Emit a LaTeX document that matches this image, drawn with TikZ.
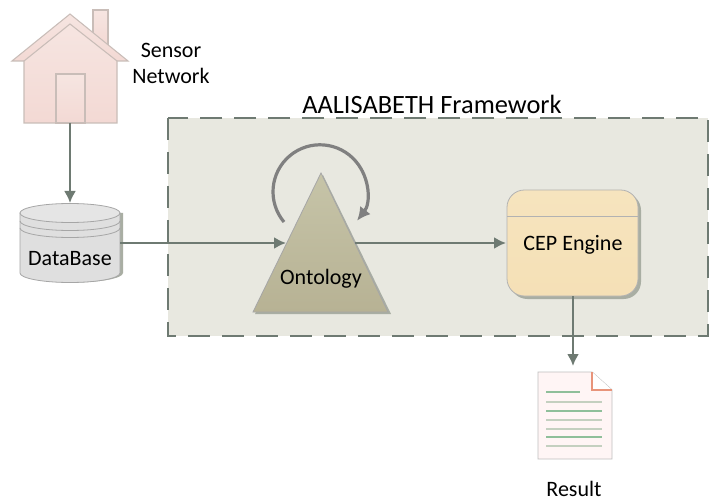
\documentclass[tikz,border=0pt]{standalone}
\usepackage{fontspec}
\setmainfont{Carlito}
\usetikzlibrary{arrows.meta}
\definecolor{linegray}{HTML}{6E7A72}
\definecolor{panelfill}{HTML}{E8E8E0}
\definecolor{pinkedge}{HTML}{C9BDB8}
\definecolor{pinktop}{HTML}{F6E5E1}
\definecolor{pinkbottom}{HTML}{F3D9D4}
\definecolor{shadowgray}{HTML}{A9AEA3}
\definecolor{rulegreen}{HTML}{8FBF9A}
\definecolor{rulegray}{HTML}{C4D0C0}
\definecolor{foldorange}{HTML}{E8947A}
\begin{document}
\begin{tikzpicture}[x=.75pt, y=.75pt,
  arr/.style = {line width=1.6pt, draw=linegray, -{Latex[length=9pt, width=9pt]}},
  panel/.style = {fill=panelfill, draw=linegray, line width=2.2pt, dash pattern=on 16.5pt off 9pt},
  pinkpart/.style = {draw=pinkedge, line width=.8pt, top color=pinktop, bottom color=pinkbottom},
  dbpart/.style = {draw=gray!70, line width=.6pt, fill=gray!25},
  shadowpart/.style = {fill=shadowgray, draw=none},
  label/.style = {font=\fontsize{16.5}{19.5}\selectfont, align=center, inner sep=0pt},
  ruled/.style = {line width=.8pt, draw=#1}
  ]
  \useasboundingbox (0,0) rectangle (716,500);

  % framework panel
  \fill [white] (0,0) rectangle (716,500);
  \draw [panel] (168,382) rectangle (708,164);
  \node (title) [label, font=\fontsize{19.8}{22}\selectfont] at (432,396) {AALISABETH Framework};

  % house
  \draw [pinkpart] (93,455) -- (93,490) -- (108,490) -- (108,455) -- cycle;
  \draw [pinkpart] (12,439) -- (70,486) -- (128,439) -- cycle;
  \draw [pinkpart] (24,439) -- (70,476) -- (117,439) -- (117,377) -- (24,377) -- cycle;
  \draw [pinkpart] (56,377) rectangle (85,426);
  \coordinate (housebase) at (70,377);
  \node (sensor) [label] at (171,437) {Sensor\\Network};

  % database
  \fill [shadowpart] (23,287) -- (23,227) arc [start angle=180, end angle=360, x radius=50, y radius=9.5] -- (123,287) -- cycle;
  \draw [dbpart] (20,287) -- (20,227) arc [start angle=180, end angle=360, x radius=50, y radius=9.5] -- (120,287) -- cycle;
  \draw [dbpart, fill=gray!20] (70,287) ellipse [x radius=50, y radius=9.5];
  \draw [dbpart, fill=none] (20,279) arc [start angle=180, end angle=360, x radius=50, y radius=9.5];
  \draw [dbpart, fill=none] (20,272) arc [start angle=180, end angle=360, x radius=50, y radius=9.5];
  \node (dbase) [label, minimum width=75pt, minimum height=45pt] at (70,241) {DataBase};
  \coordinate (dbasetop) at (70,297);
  \coordinate (dbaseright) at (120,257);

  % ontology
  \fill [shadowpart] (255,186) -- (391,186) -- (323,325) -- cycle;
  \draw [draw=gray!70, line width=.6pt, top color={rgb,255:red,198;green,196;blue,168}, bottom color={rgb,255:red,183;green,178;blue,148}]
    (253,188) -- (388,188) -- (321,327) -- cycle;
  \node (onto) [label] at (321,221) {Ontology};
  \coordinate (ontoin) at (286,257);
  \coordinate (ontoout) at (355,257);
  \coordinate (ontoloop) at (284,278);
  \draw [line width=2.4pt, draw=gray, -{Latex[length=10pt, width=10pt]}]
    (ontoloop) arc [start angle=220, end angle=-38, radius=47];

  % cep engine
  \fill [shadowpart, rounded corners=13pt] (510,201) rectangle (641,307);
  \draw [draw=gray!60, line width=.6pt, rounded corners=13pt, top color={rgb,255:red,246;green,228;blue,190}, bottom color={rgb,255:red,245;green,224;blue,182}]
    (507,204) rectangle (638,310);
  \draw [draw=gray!60, line width=.6pt] (507,284) -- (638,284);
  \node (cep) [label, minimum width=98pt, minimum height=50pt] at (573,255) {CEP Engine};
  \coordinate (cepin) at (506,257);
  \coordinate (cepout) at (573,204);

  % result
  \draw [draw=gray!50, line width=.7pt, fill=red!4!white] (538,128) -- (538,41) -- (612,41) -- (612,110) -- (592,128) -- cycle;
  \draw [ruled=foldorange, fill=white] (592,128) -- (592,110) -- (612,110);
  \foreach \y/\xend/\ruleclr in {108/580/rulegreen,98/602/rulegray,89/602/rulegreen,80/602/rulegray,71/602/rulegray,63/602/rulegreen,54/602/rulegray}
    \draw [ruled=\ruleclr] (546,\y) -- (\xend,\y);
  \coordinate (resulttop) at (573,134);
  \node (result) [label] at (574,11) {Result};

  \draw [arr] (housebase) -- (dbasetop);
  \draw [arr] (dbaseright) -- (ontoin);
  \draw [arr] (ontoout) -- (cepin);
  \draw [arr] (cepout) -- (resulttop);
\end{tikzpicture}
\end{document}
